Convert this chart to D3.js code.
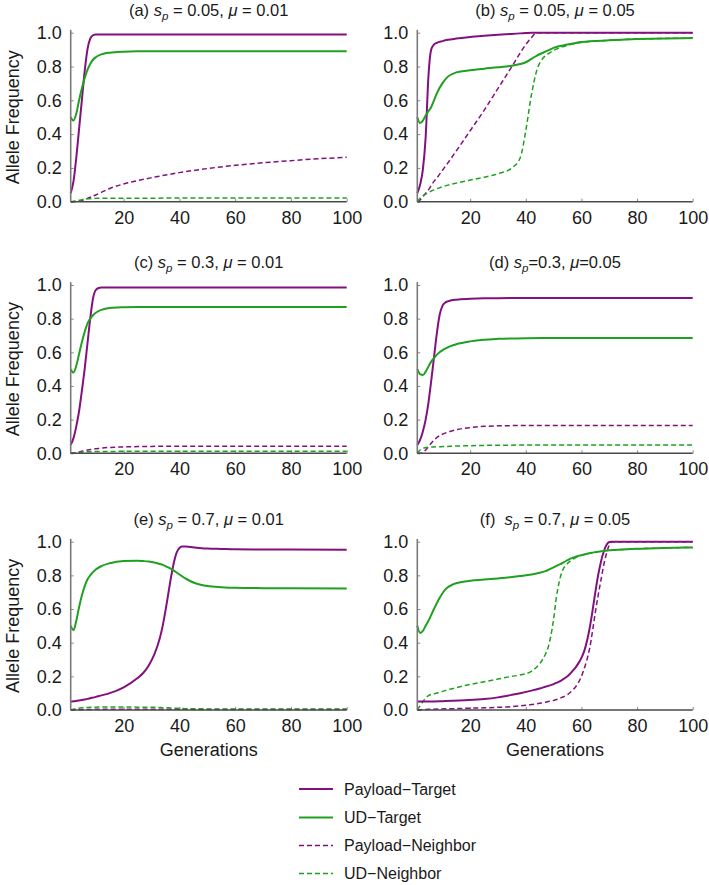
<!DOCTYPE html>
<html>
<head>
<meta charset="utf-8">
<script src="https://cdn.jsdelivr.net/npm/d3@7"></script>
<style>
  html, body { margin: 0; padding: 0; background: #fff; }
  svg { display: block; font-family: "Liberation Sans", Arial, Helvetica, sans-serif; }
  text { white-space: pre; }
</style>
</head>
<body>
<svg id="chart" width="709" height="885"></svg>
<script>
// ---------------- DATA ----------------
const seriesNames = ["Payload\u2212Target", "UD\u2212Target", "Payload\u2212Neighbor", "UD\u2212Neighbor"];
const xTicks = [20, 40, 60, 80, 100];
const yTicks = [0, 0.2, 0.4, 0.6, 0.8, 1.0];

const titleParts = [
  ["(a) ", "s", "p", " = 0.05, ", "\u03bc", " = 0.01"],
  ["(b) ", "s", "p", " = 0.05, ", "\u03bc", " = 0.05"],
  ["(c) ", "s", "p", " = 0.3, ", "\u03bc", " = 0.01"],
  ["(d) ", "s", "p", "=0.3, ", "\u03bc", "=0.05"],
  ["(e) ", "s", "p", " = 0.7, ", "\u03bc", " = 0.01"],
  ["(f)  ", "s", "p", " = 0.7, ", "\u03bc", " = 0.05"]
];

// (a) s_p = 0.05, mu = 0.01
const genA  = [1,2,3,4,5,6,7,8,9,10,12,15,20,25,30,40,50,60,70,80,90,100];
const payTA = [0.05,0.12,0.26,0.43,0.60,0.77,0.90,0.965,0.985,0.99,0.99,0.99,0.99,0.99,0.99,0.99,0.99,0.99,0.99,0.99,0.99,0.99];
const udTA  = [0.50,0.48,0.52,0.60,0.67,0.73,0.78,0.815,0.84,0.855,0.872,0.882,0.888,0.89,0.89,0.89,0.89,0.89,0.89,0.89,0.89,0.89];
const payNA = [0,0,0.002,0.004,0.006,0.012,0.02,0.026,0.033,0.04,0.055,0.078,0.105,0.125,0.142,0.172,0.196,0.215,0.23,0.243,0.254,0.263];
const udNA  = [0,0.002,0.005,0.008,0.012,0.015,0.017,0.018,0.019,0.02,0.02,0.021,0.021,0.021,0.021,0.022,0.022,0.022,0.022,0.022,0.022,0.022];

// (b) s_p = 0.05, mu = 0.05
const genB  = [1,2,3,4,5,6,7,8,10,12,15,20,25,30,35,38,40,42,44,46,48,50,55,60,70,80,90,100];
const payTB = [0.05,0.10,0.19,0.38,0.74,0.90,0.93,0.94,0.95,0.958,0.965,0.975,0.982,0.988,0.993,0.996,0.998,1,1,1,1,1,1,1,1,1,1,1];
const udTB  = [0.50,0.465,0.48,0.51,0.535,0.56,0.60,0.64,0.70,0.74,0.765,0.778,0.787,0.795,0.805,0.815,0.825,0.845,0.865,0.88,0.895,0.91,0.93,0.945,0.955,0.962,0.966,0.968];
const payNB = [0,0.01,0.03,0.05,0.07,0.095,0.12,0.14,0.185,0.23,0.30,0.42,0.54,0.67,0.80,0.88,0.93,0.97,1,1,1,1,1,1,1,1,1,1];
const udNB  = [0,0.02,0.035,0.045,0.055,0.063,0.07,0.076,0.088,0.098,0.11,0.128,0.145,0.165,0.20,0.26,0.42,0.63,0.78,0.845,0.875,0.895,0.925,0.942,0.955,0.962,0.966,0.968];

// (c) s_p = 0.3, mu = 0.01
const genC  = [1,2,3,4,5,6,7,8,9,10,11,12,15,20,25,30,40,50,60,80,100];
const payTC = [0.05,0.09,0.16,0.25,0.37,0.50,0.65,0.80,0.92,0.97,0.982,0.985,0.985,0.985,0.985,0.985,0.985,0.985,0.985,0.985,0.985];
const udTC  = [0.50,0.48,0.52,0.59,0.66,0.72,0.77,0.80,0.82,0.835,0.845,0.852,0.863,0.868,0.87,0.87,0.87,0.87,0.87,0.87,0.87];
const payNC = [0,0.002,0.005,0.008,0.012,0.016,0.019,0.022,0.025,0.027,0.029,0.031,0.035,0.038,0.04,0.041,0.042,0.042,0.042,0.042,0.042];
const udNC  = [0,0.002,0.004,0.005,0.007,0.008,0.009,0.009,0.01,0.01,0.011,0.011,0.011,0.012,0.012,0.012,0.012,0.012,0.012,0.012,0.012];

// (d) s_p = 0.3, mu = 0.05
const genD  = [1,2,3,4,5,6,7,8,9,10,11,12,13,15,20,25,30,40,50,60,80,100];
const payTD = [0.05,0.08,0.13,0.20,0.30,0.43,0.57,0.71,0.82,0.875,0.895,0.903,0.908,0.913,0.918,0.921,0.922,0.923,0.923,0.923,0.923,0.923];
const udTD  = [0.50,0.47,0.465,0.485,0.515,0.545,0.565,0.585,0.60,0.612,0.622,0.63,0.637,0.648,0.665,0.675,0.68,0.684,0.685,0.685,0.685,0.685];
const payND = [0,0,0.005,0.02,0.04,0.06,0.078,0.093,0.105,0.113,0.12,0.126,0.131,0.14,0.153,0.16,0.163,0.165,0.165,0.165,0.165,0.165];
const udND  = [0,0.02,0.03,0.034,0.036,0.037,0.038,0.039,0.039,0.04,0.041,0.041,0.042,0.043,0.045,0.047,0.048,0.049,0.05,0.05,0.05,0.05];

// (e) s_p = 0.7, mu = 0.01
const genE  = [1,2,3,4,5,6,7,8,10,12,15,20,25,27,29,31,33,34,35,36,37,38,39,40,41,42,44,46,48,50,55,60,70,80,100];
const payTE = [0.05,0.052,0.054,0.057,0.06,0.063,0.066,0.07,0.078,0.087,0.10,0.135,0.19,0.22,0.265,0.33,0.43,0.50,0.59,0.69,0.79,0.875,0.935,0.963,0.971,0.972,0.968,0.964,0.961,0.959,0.957,0.955,0.954,0.953,0.952];
const udTE  = [0.50,0.475,0.53,0.61,0.68,0.735,0.775,0.80,0.835,0.855,0.872,0.885,0.887,0.885,0.882,0.876,0.867,0.862,0.855,0.847,0.838,0.828,0.817,0.805,0.794,0.783,0.765,0.752,0.743,0.737,0.73,0.726,0.724,0.723,0.722];
const payNE = [0,0.001,0.001,0.002,0.002,0.003,0.003,0.003,0.004,0.004,0.005,0.005,0.005,0.005,0.005,0.005,0.005,0.005,0.004,0.004,0.004,0.004,0.004,0.004,0.004,0.004,0.004,0.003,0.003,0.003,0.003,0.003,0.003,0.003,0.003];
const udNE  = [0,0.005,0.009,0.011,0.013,0.014,0.015,0.016,0.017,0.018,0.018,0.018,0.017,0.017,0.016,0.016,0.015,0.014,0.014,0.013,0.012,0.011,0.011,0.01,0.009,0.008,0.008,0.007,0.007,0.006,0.006,0.006,0.006,0.006,0.006];

// (f) s_p = 0.7, mu = 0.05
const genF  = [1,2,3,4,5,7,9,11,14,18,25,30,35,38,42,45,47,48,49,50,51,52,53,55,57,58,59,60,61,62,63,64,65,66,67,68,69,70,71,72,75,80,90,100];
const payTF = [0.05,0.05,0.05,0.05,0.05,0.051,0.052,0.053,0.055,0.058,0.065,0.075,0.09,0.10,0.115,0.128,0.138,0.143,0.148,0.154,0.161,0.169,0.178,0.20,0.235,0.255,0.28,0.31,0.35,0.41,0.49,0.59,0.70,0.80,0.88,0.94,0.98,0.998,1,1,1,1,1,1];
const udTF  = [0.50,0.458,0.47,0.50,0.53,0.60,0.665,0.715,0.748,0.763,0.775,0.782,0.79,0.796,0.805,0.815,0.825,0.832,0.84,0.848,0.856,0.864,0.872,0.89,0.905,0.911,0.916,0.92,0.924,0.928,0.932,0.935,0.938,0.941,0.943,0.945,0.947,0.949,0.95,0.951,0.954,0.958,0.963,0.966];
const payNF = [0,0.001,0.002,0.003,0.004,0.005,0.006,0.007,0.008,0.01,0.013,0.016,0.02,0.025,0.032,0.04,0.046,0.05,0.053,0.057,0.062,0.068,0.075,0.092,0.12,0.14,0.165,0.20,0.245,0.30,0.37,0.47,0.58,0.68,0.77,0.86,0.93,0.98,1,1,1,1,1,1];
const udNF  = [0,0.025,0.05,0.07,0.085,0.097,0.105,0.115,0.128,0.145,0.168,0.184,0.20,0.208,0.23,0.275,0.33,0.37,0.44,0.54,0.67,0.76,0.82,0.87,0.897,0.906,0.914,0.92,0.924,0.928,0.932,0.935,0.938,0.941,0.943,0.945,0.947,0.949,0.95,0.951,0.954,0.958,0.963,0.966];

// ---------------- LAYOUT ----------------
const colors = { purple: "#82117f", green: "#20a020" };
const seriesStyle = [
  { color: colors.purple, dash: null, width: 2 },
  { color: colors.green,  dash: null, width: 2 },
  { color: colors.purple, dash: "5,3", width: 1.5 },
  { color: colors.green,  dash: "5,3", width: 1.5 }
];

const colX = [[70.7, 346.7], [417.3, 692.7]];
const rowY = [[201.7, 32.7], [453.3, 285], [710, 541.7]];

const panels = [
  { gen: genA, series: [payTA, udTA, payNA, udNA] },
  { gen: genB, series: [payTB, udTB, payNB, udNB] },
  { gen: genC, series: [payTC, udTC, payNC, udNC] },
  { gen: genD, series: [payTD, udTD, payND, udND] },
  { gen: genE, series: [payTE, udTE, payNE, udNE] },
  { gen: genF, series: [payTF, udTF, payNF, udNF] }
];

const svg = d3.select("#chart");
svg.append("rect").attr("width", 709).attr("height", 885).attr("fill", "#fff");

panels.forEach((p, i) => {
  const col = i % 2, row = Math.floor(i / 2);
  const x = d3.scaleLinear().domain([1, 100]).range(colX[col]);
  const y = d3.scaleLinear().domain([0, 1]).range(rowY[row]);
  const g = svg.append("g");

  // axes
  const xAxis = d3.axisBottom(x).tickValues(xTicks).tickSize(-3).tickPadding(9.2).tickFormat(d3.format("d"));
  const yAxis = d3.axisLeft(y).tickValues(yTicks).tickSize(-3).tickPadding(9).tickFormat(d3.format(".1f"));

  const gx = g.append("g").attr("transform", `translate(0,${y(0)})`).call(xAxis);
  const gy = g.append("g").attr("transform", `translate(${x(1)},0)`).call(yAxis);
  [gx, gy].forEach(a => {
    a.select(".domain").remove();
    a.selectAll(".tick line").attr("stroke", "#888").attr("stroke-width", 1);
    a.selectAll(".tick text").attr("fill", "#1a1a1a").attr("font-size", 18)
      .attr("font-family", '"Liberation Sans", Arial, sans-serif');
  });

  // curves
  const line = d3.line().x(d => x(d[0])).y(d => y(d[1])).curve(d3.curveMonotoneX);
  [2, 3, 0, 1].forEach(si => {
    const vals = p.series[si];
    const pts = p.gen.map((gv, k) => [gv, vals[k]]);
    const st = seriesStyle[si];
    g.append("path").datum(pts).attr("d", line)
      .attr("fill", "none").attr("stroke", st.color).attr("stroke-width", st.width)
      .attr("stroke-dasharray", st.dash).attr("stroke-linejoin", "round");
  });

  // axis lines
  g.append("line").attr("x1", x(1)).attr("x2", x(1)).attr("y1", y(0)).attr("y2", y(1.017))
    .attr("stroke", "#7a7a7a").attr("stroke-width", 1.6);
  g.append("line").attr("x1", x(1)).attr("x2", x(100)).attr("y1", y(0)).attr("y2", y(0))
    .attr("stroke", "#4a4a4a").attr("stroke-width", 1.5);

  // title
  const parts = titleParts[i];
  const t = g.append("text").attr("x", (colX[col][0] + colX[col][1]) / 2).attr("y", y(1) - 17)
    .attr("text-anchor", "middle").attr("font-size", 16.5).attr("fill", "#1a1a1a");
  t.append("tspan").text(parts[0]);
  t.append("tspan").attr("font-style", "italic").text(parts[1]);
  t.append("tspan").attr("font-style", "italic").attr("font-size", 11.5).attr("dy", 4).text(parts[2]);
  t.append("tspan").attr("dy", -4).text(parts[3]);
  t.append("tspan").attr("font-style", "italic").text(parts[4]);
  t.append("tspan").text(parts[5]);

  // axis labels
  if (col === 0) {
    const cy = (rowY[row][0] + rowY[row][1]) / 2;
    g.append("text").attr("transform", `translate(19,${cy}) rotate(-90)`)
      .attr("text-anchor", "middle").attr("font-size", 18).attr("fill", "#1a1a1a").text("Allele Frequency");
  }
  if (row === 2) {
    g.append("text").attr("x", (colX[col][0] + colX[col][1]) / 2).attr("y", 756)
      .attr("text-anchor", "middle").attr("font-size", 18).attr("fill", "#1a1a1a").text("Generations");
  }
});

// legend
const legendRowsY = [789, 817.5, 845.5, 873.5];
const legend = svg.append("g");
seriesNames.forEach((name, i) => {
  const st = seriesStyle[i];
  legend.append("line").attr("x1", 299).attr("x2", 333).attr("y1", legendRowsY[i]).attr("y2", legendRowsY[i])
    .attr("stroke", st.color).attr("stroke-width", st.width).attr("stroke-dasharray", st.dash);
  legend.append("text").attr("x", 344).attr("y", legendRowsY[i]).attr("dy", "0.35em")
    .attr("font-size", 16).attr("fill", "#1a1a1a").text(name);
});
</script>
</body>
</html>
